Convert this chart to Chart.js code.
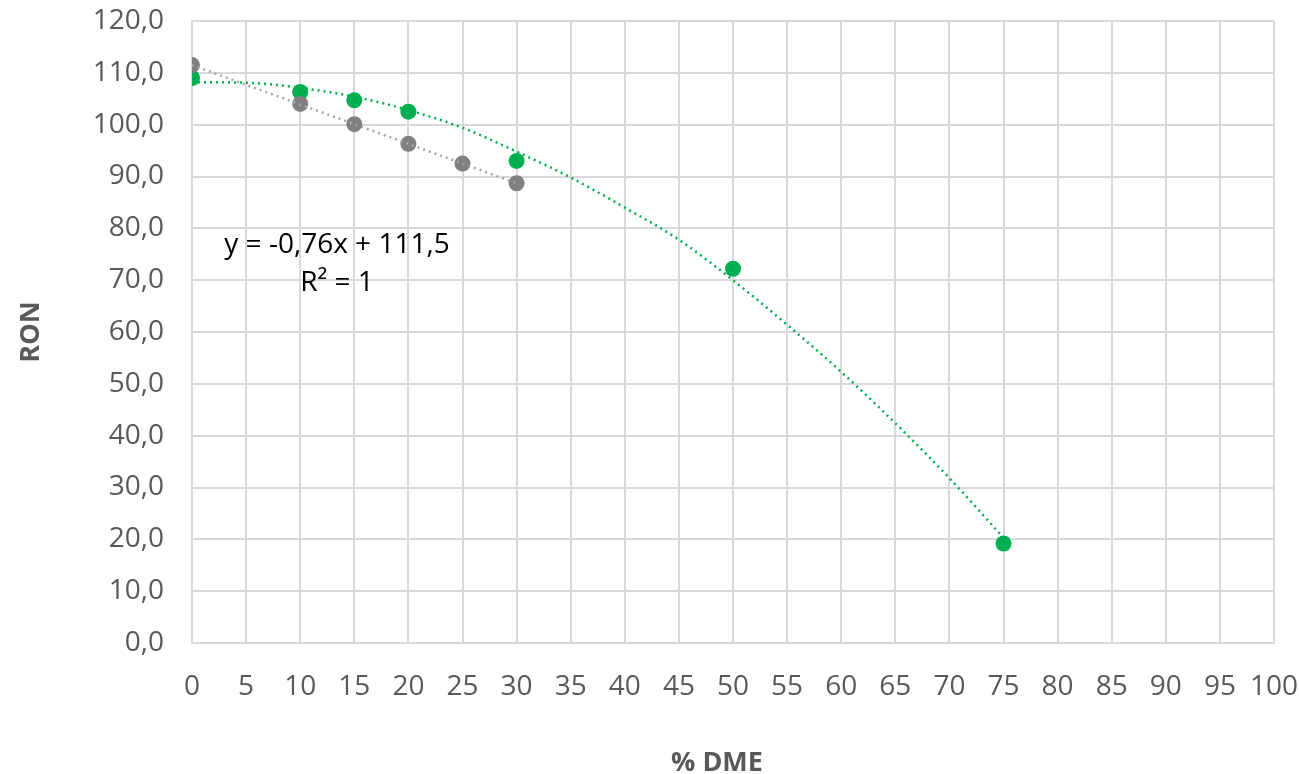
<!DOCTYPE html>
<html>
<head>
<meta charset="utf-8">
<script src="https://cdn.jsdelivr.net/npm/chart.js@4/dist/chart.umd.min.js"></script>
<style>
html,body{margin:0;padding:0;background:#fff;}
#wrap{width:1299px;height:774px;}
</style>
</head>
<body>
<div id="wrap"><canvas id="c" width="1299" height="774"></canvas></div>
<script>
// Measured data: series A (grey) and B (green)
const greyX = [0, 10, 15, 20, 25, 30];
const greyY = [111.5, 104.0, 100.1, 96.3, 92.5, 88.7];
const greenX = [0, 10, 15, 20, 30, 50, 75];
const greenY = [109.0, 106.3, 104.7, 102.5, 93.0, 72.2, 19.2];
// Trendlines
const greyTrendX = [0, 30];
const greyTrendY = [111.5, 88.7];
const greenTrendX = [0, 5, 10, 15, 20, 25, 30, 35, 40, 45, 50, 55, 60, 65, 70, 75];
const greenTrendY = [108.2, 108.1, 107.1, 105.4, 102.8, 99.4, 94.8, 89.8, 84.0, 77.8, 70.0, 61.4, 52.3, 42.4, 31.8, 20.3];
// Axis settings
const xMin = 0, xMax = 100, xStep = 5;
const yMin = 0, yMax = 120, yStep = 10;
const xTitle = '% DME';
const yTitle = 'RON';
const eqLines = ['y = -0,76x + 111,5', 'R² = 1'];
const eqAnchor = [13.4, 73.2]; // data coords of equation label center

const pts = (xs, ys) => xs.map((x, i) => ({x: x, y: ys[i]}));

const textPlugin = {
  id: 'texts',
  afterDatasetsDraw(chart) {
    const ctx = chart.ctx;
    const xs = chart.scales.x, ys = chart.scales.y;
    const cx = xs.getPixelForValue(eqAnchor[0]);
    const cy = ys.getPixelForValue(eqAnchor[1]);
    ctx.save();
    ctx.fillStyle = '#000';
    ctx.font = '28px "Open Sans"';
    ctx.textAlign = 'center';
    ctx.textBaseline = 'middle';
    ctx.fillText(eqLines[0], cx, cy - 19);
    ctx.fillText(eqLines[1], cx, cy + 19);
    // axis titles
    ctx.fillStyle = '#595959';
    ctx.font = 'bold 27px "Open Sans"';
    ctx.fillText(xTitle, 717, 763);
    ctx.translate(31, (chart.chartArea.top + chart.chartArea.bottom) / 2);
    ctx.rotate(-Math.PI / 2);
    ctx.fillText(yTitle, 0, 0);
    ctx.restore();
  }
};

const fmt = v => Number(v).toFixed(1).replace('.', ',');

new Chart(document.getElementById('c'), {
  type: 'scatter',
  data: {
    datasets: [
      {data: pts(greyTrendX, greyTrendY), showLine: true, borderColor: '#a6a6a6', borderWidth: 2.5, borderDash: [2, 4], pointRadius: 0, order: 0},
      {data: pts(greenTrendX, greenTrendY), showLine: true, borderColor: '#00b050', borderWidth: 2.5, borderDash: [2, 4], pointRadius: 0, tension: 0.4, cubicInterpolationMode: 'monotone', order: 0},
      {data: pts(greyX, greyY), backgroundColor: '#808080', borderColor: '#808080', pointRadius: 8, pointBorderWidth: 0, order: 1},
      {data: pts(greenX, greenY), backgroundColor: '#00b050', borderColor: '#00b050', pointRadius: 8, pointBorderWidth: 0, order: 1}
    ]
  },
  options: {
    responsive: false,
    animation: false,
    devicePixelRatio: 1,
    layout: {padding: {top: 21, right: 25, left: 0, bottom: 0}},
    plugins: {legend: {display: false}, tooltip: {enabled: false}},
    scales: {
      x: {
        type: 'linear', min: xMin, max: xMax,
        ticks: {stepSize: xStep, color: '#595959', font: {family: 'Open Sans', size: 28}, padding: 27, maxRotation: 0},
        grid: {color: '#d9d9d9', lineWidth: 2, drawTicks: false},
        border: {color: '#d9d9d9', width: 2},
        afterFit(s) { s.height = 774 - 643; s.paddingLeft = 0; s.paddingRight = 0; s.paddingTop = 0; s.paddingBottom = 0; }
      },
      y: {
        type: 'linear', min: yMin, max: yMax,
        ticks: {stepSize: yStep, color: '#595959', font: {family: 'Open Sans', size: 28}, padding: 28, callback: v => fmt(v)},
        grid: {color: '#d9d9d9', lineWidth: 2, drawTicks: false},
        border: {color: '#d9d9d9', width: 2},
        afterFit(s) { s.width = 192; s.paddingLeft = 0; s.paddingRight = 0; s.paddingTop = 0; s.paddingBottom = 0; }
      }
    }
  },
  plugins: [textPlugin]
});
</script>
</body>
</html>
